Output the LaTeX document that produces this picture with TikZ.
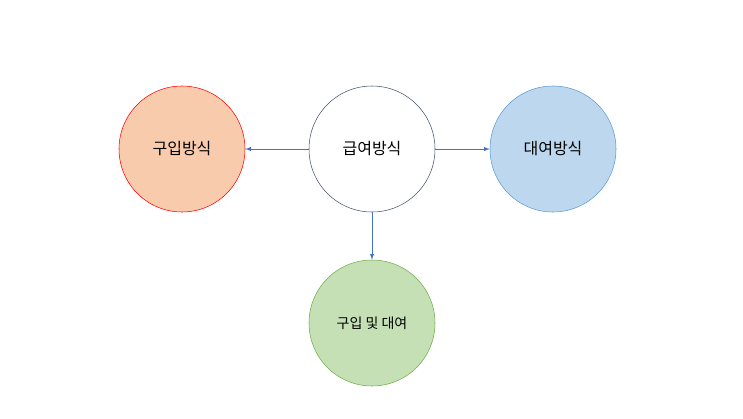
\documentclass[tikz,border=0pt]{standalone}
\usepackage{fontspec}
\newfontfamily\kr{Noto Sans CJK KR}
\usetikzlibrary{positioning}
\definecolor{peach}{HTML}{F8CBAD}
\definecolor{skyblue}{HTML}{BDD7EE}
\definecolor{skyline}{HTML}{5B9BD5}
\definecolor{leaf}{HTML}{C5E0B4}
\definecolor{leafline}{HTML}{70AD47}
\definecolor{slate}{HTML}{44546A}
\definecolor{arrowblue}{HTML}{4472C4}
\begin{document}
\begin{tikzpicture}[x=0.75pt,y=0.75pt,
    way/.style={circle,minimum size=94.5pt,inner sep=0pt,font=\kr\fontsize{12}{14}\selectfont},
    link/.style={-latex,arrowblue,line width=0.5pt}]
    \useasboundingbox (0,0) rectangle (743,-418);
    \node[way,draw=slate,fill=white] (main) at (372,-149) {급여방식};
    \node[way,draw=red,fill=peach] (buy) at (182,-149) {구입방식};
    \node[way,draw=skyline,fill=skyblue] (lend) at (553,-149) {대여방식};
    \node[way,draw=leafline,fill=leaf,font=\kr\fontsize{10.5}{13}\selectfont] (both) at (372,-323) {구입 및 대여};
    \draw[link] (main) -- (buy);
    \draw[link] (main) -- (lend);
    \draw[link] (main) -- (both);
\end{tikzpicture}
\end{document}
